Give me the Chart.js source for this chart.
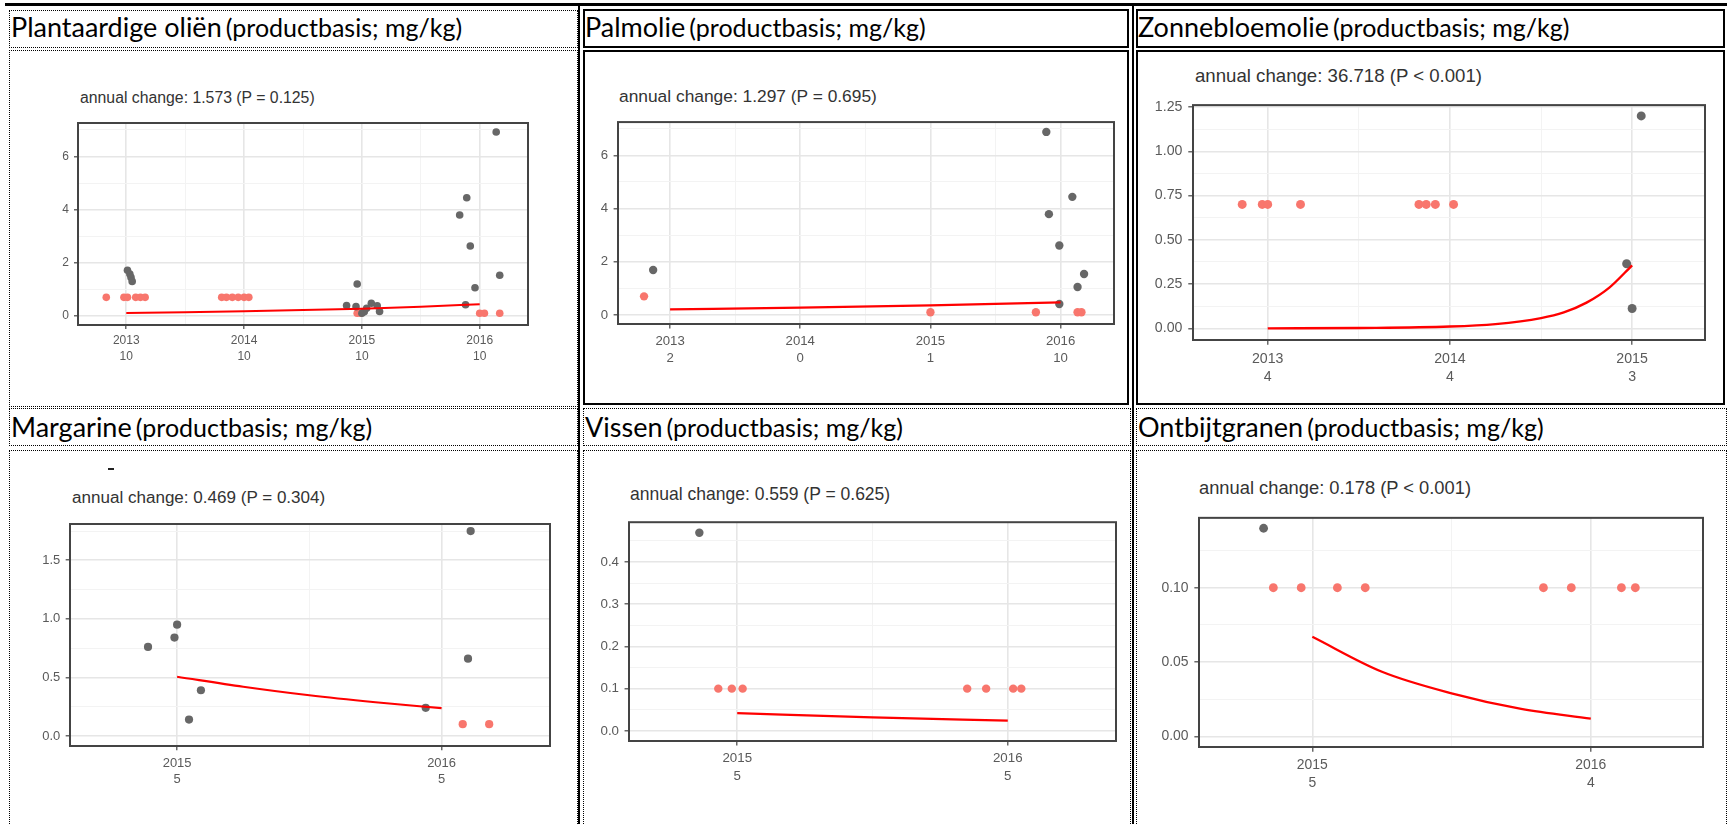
<!DOCTYPE html>
<html lang="nl">
<head>
<meta charset="utf-8">
<title>Trends per productgroep</title>
<script src="https://cdn.jsdelivr.net/npm/chart.js@4.4.1/dist/chart.umd.min.js"></script>
<style>
  html, body { margin: 0; padding: 0; background: #fff; }
  #page { position: relative; width: 1727px; height: 824px; overflow: hidden; }
  .ln { position: absolute; box-sizing: border-box; }
  .dot { border: 1px dotted #000; }
  .solid { border: 2px solid #000; }
  .title { position: absolute; font-family: Lato, "Open Sans", sans-serif; color: #000; white-space: nowrap; line-height: 1; }
  .title .big { font-size: 27px; }
  .title .small { font-size: 25px; }
  .note { position: absolute; font-family: "Liberation Sans", Arial, sans-serif; color: #333; white-space: nowrap; line-height: 1; }
  canvas { position: absolute; }
</style>
</head>
<body>
<div id="page">
  <!-- tabelranden -->
  <div class="ln" style="left:5px;top:3px;width:1722px;height:3px;background:#000"></div>
  <div class="ln" style="left:578px;top:3px;width:2px;height:821px;background:#000"></div>
  <div class="ln" style="left:1132px;top:3px;width:2px;height:821px;background:#000"></div>

  <div class="ln dot" style="left:9px;top:10px;width:569px;height:38px"></div>
  <div class="ln dot" style="left:9px;top:50px;width:569px;height:357px"></div>
  <div class="ln solid" style="left:583px;top:9px;width:546px;height:39px"></div>
  <div class="ln solid" style="left:583px;top:50px;width:546px;height:355px"></div>
  <div class="ln solid" style="left:1136px;top:9px;width:589px;height:39px"></div>
  <div class="ln solid" style="left:1136px;top:50px;width:589px;height:355px"></div>

  <div class="ln dot" style="left:9px;top:408px;width:569px;height:38px"></div>
  <div class="ln dot" style="left:9px;top:450px;width:569px;height:380px"></div>
  <div class="ln dot" style="left:583px;top:408px;width:548px;height:38px"></div>
  <div class="ln dot" style="left:583px;top:450px;width:548px;height:380px"></div>
  <div class="ln dot" style="left:1136px;top:408px;width:591px;height:38px"></div>
  <div class="ln dot" style="left:1136px;top:450px;width:591px;height:380px"></div>
  <div class="ln" style="left:108px;top:468px;width:6px;height:2px;background:#222"></div>

  <div class="title" style="left:11px;top:13px"><span class="big">Plantaardige oliën</span> <span class="small">(productbasis; mg/kg)</span></div>
  <div class="title" style="left:585px;top:13px"><span class="big">Palmolie</span> <span class="small">(productbasis; mg/kg)</span></div>
  <div class="title" style="left:1138px;top:13px"><span class="big">Zonnebloemolie</span> <span class="small">(productbasis; mg/kg)</span></div>
  <div class="title" style="left:11px;top:413px"><span class="big">Margarine</span> <span class="small">(productbasis; mg/kg)</span></div>
  <div class="title" style="left:585px;top:413px"><span class="big">Vissen</span> <span class="small">(productbasis; mg/kg)</span></div>
  <div class="title" style="left:1138px;top:413px"><span class="big">Ontbijtgranen</span> <span class="small">(productbasis; mg/kg)</span></div>
</div>

<script>
// ---- data ----
// rood = onder rapportagegrens, grijs = gemeten, fit = trendlijn
const plantRed = [[2012.83,0.7],[2012.98,0.7],[2013.01,0.7],[2013.08,0.7],[2013.12,0.7],[2013.16,0.7],
  [2013.81,0.7],[2013.85,0.7],[2013.9,0.7],[2013.95,0.7],[2014.0,0.7],[2014.04,0.7],
  [2014.96,0.1],[2014.99,0.1],[2016.0,0.1],[2016.04,0.1],[2016.17,0.1]];
const plantGrey = [[2013.01,1.72],[2013.03,1.58],[2013.04,1.45],[2013.05,1.3],
  [2014.87,0.39],[2014.95,0.35],[2014.96,1.2],[2015.0,0.1],[2015.02,0.16],[2015.04,0.29],[2015.08,0.48],[2015.13,0.38],[2015.15,0.17],
  [2015.83,3.8],[2015.88,0.42],[2015.89,4.45],[2015.92,2.63],[2015.96,1.06],[2016.14,6.92],[2016.17,1.53]];
const plantFit = [[2013,0.11],[2013.5,0.14],[2014,0.175],[2014.5,0.22],[2015,0.275],[2015.5,0.35],[2016,0.44]];
const plantYears = [2013, 2014, 2015, 2016];
const plantCounts = [10, 10, 10, 10];

const palmRed = [[2012.8,0.7],[2015.0,0.1],[2015.81,0.1],[2016.13,0.1],[2016.16,0.1]];
const palmGrey = [[2012.87,1.69],[2015.89,6.88],[2015.91,3.79],[2015.99,2.61],[2015.99,0.41],[2016.09,4.44],[2016.13,1.05],[2016.18,1.54]];
const palmFit = [[2013,0.21],[2014,0.275],[2015,0.36],[2016,0.47]];
const palmYears = [2013, 2014, 2015, 2016];
const palmCounts = [2, 0, 1, 10];

const zonRed = [[2012.86,0.7],[2012.97,0.7],[2013.0,0.7],[2013.18,0.7],[2013.83,0.7],[2013.87,0.7],[2013.92,0.7],[2014.02,0.7]];
const zonGrey = [[2014.97,0.365],[2015.0,0.112],[2015.05,1.2]];
const zonFit = [[2013,0.0],[2013.5,0.002],[2014,0.01],[2014.25,0.024],[2014.5,0.058],[2014.625,0.09],[2014.75,0.145],[2014.875,0.23],[2015,0.356]];
const zonYears = [2013, 2014, 2015];
const zonCounts = [4, 4, 3];

const margRed = [[2016.08,0.1],[2016.18,0.1]];
const margGrey = [[2014.89,0.76],[2014.99,0.84],[2015.0,0.95],[2015.045,0.14],[2015.09,0.39],[2015.94,0.24],[2016.1,0.66],[2016.11,1.75]];
const margFit = [[2015,0.505],[2015.25,0.42],[2015.5,0.347],[2015.75,0.288],[2016,0.237]];
const margYears = [2015, 2016];
const margCounts = [5, 5];

const visRed = [[2014.93,0.1],[2014.98,0.1],[2015.02,0.1],[2015.85,0.1],[2015.92,0.1],[2016.02,0.1],[2016.05,0.1]];
const visGrey = [[2014.86,0.469]];
const visFit = [[2015,0.042],[2015.5,0.032],[2016,0.024]];
const visYears = [2015, 2016];
const visCounts = [5, 5];

const ontRed = [[2014.86,0.1],[2014.96,0.1],[2015.09,0.1],[2015.19,0.1],[2015.83,0.1],[2015.93,0.1],[2016.11,0.1],[2016.16,0.1]];
const ontGrey = [[2014.825,0.14]];
const ontFit = [[2015,0.067],[2015.25,0.0435],[2015.5,0.029],[2015.75,0.0185],[2016,0.012]];
const ontYears = [2015, 2016];
const ontCounts = [5, 4];

// y-as ticks (hoofd + tussenlijnen)
const yTicksOil = [0, 2, 4, 6];           const yMinorOil = [1, 3, 5, 7];
const yTicksZon = [0, 0.25, 0.5, 0.75, 1, 1.25]; const yMinorZon = [0.125, 0.375, 0.625, 0.875, 1.125];
const yTicksMarg = [0, 0.5, 1, 1.5];      const yMinorMarg = [0.25, 0.75, 1.25, 1.75];
const yTicksVis = [0, 0.1, 0.2, 0.3, 0.4]; const yMinorVis = [0.05, 0.15, 0.25, 0.35, 0.45];
const yTicksOnt = [0, 0.05, 0.1];         const yMinorOnt = [0.025, 0.075, 0.125];

const notes = [
  "annual change: 1.573 (P = 0.125)",
  "annual change: 1.297 (P = 0.695)",
  "annual change: 36.718 (P < 0.001)",
  "annual change: 0.469 (P = 0.304)",
  "annual change: 0.559 (P = 0.625)",
  "annual change: 0.178 (P < 0.001)"
];

// ---- opmaak per paneel (positie plotvak in px) ----
const panels = [
  { red: plantRed, grey: plantGrey, fit: plantFit, years: plantYears, counts: plantCounts,
    yT: yTicksOil, yM: yMinorOil, dec: 0, x: [2012.59, 2016.41], y: [-0.34, 7.26],
    box: { l: 78, t: 123, r: 528, b: 325 }, note: [80, 99], k: 1 },
  { red: palmRed, grey: palmGrey, fit: palmFit, years: palmYears, counts: palmCounts,
    yT: yTicksOil, yM: yMinorOil, dec: 0, x: [2012.6, 2016.41], y: [-0.34, 7.25],
    box: { l: 618, t: 122, r: 1114, b: 324 }, note: [619, 98], k: 1.1 },
  { red: zonRed, grey: zonGrey, fit: zonFit, years: zonYears, counts: zonCounts,
    yT: yTicksZon, yM: yMinorZon, dec: 2, x: [2012.59, 2015.4], y: [-0.066, 1.261],
    box: { l: 1193, t: 104, r: 1705, b: 340 }, note: [1195, 77], k: 1.18 },
  { red: margRed, grey: margGrey, fit: margFit, years: margYears, counts: margCounts,
    yT: yTicksMarg, yM: yMinorMarg, dec: 1, x: [2014.595, 2016.41], y: [-0.086, 1.81],
    box: { l: 70, t: 524, r: 550, b: 746 }, note: [72, 498], k: 1.08 },
  { red: visRed, grey: visGrey, fit: visFit, years: visYears, counts: visCounts,
    yT: yTicksVis, yM: yMinorVis, dec: 1, x: [2014.6, 2016.4], y: [-0.024, 0.494],
    box: { l: 629, t: 522, r: 1116, b: 741 }, note: [630, 496], k: 1.11 },
  { red: ontRed, grey: ontGrey, fit: ontFit, years: ontYears, counts: ontCounts,
    yT: yTicksOnt, yM: yMinorOnt, dec: 2, x: [2014.593, 2016.403], y: [-0.0071, 0.147],
    box: { l: 1199, t: 517, r: 1703, b: 747 }, note: [1199, 489], k: 1.16 }
];

// kader rond het plotvak (ggplot theme_bw)
const panelBorder = {
  id: "panelBorder",
  afterDraw(chart) {
    const { ctx, chartArea: a } = chart;
    ctx.save();
    ctx.strokeStyle = "#444";
    ctx.lineWidth = 2;
    ctx.strokeRect(a.left, a.top, a.right - a.left, a.bottom - a.top);
    ctx.restore();
  }
};

const page = document.getElementById("page");
const AX_W = 62, PAD_T = 14, PAD_R = 12;
const isIn = (arr, v) => arr.some(a => Math.abs(a - v) < 1e-9);

panels.forEach((p, i) => {
  const k = p.k;
  const axH = Math.round(50 * k);

  // tekst boven het plotvak
  const note = document.createElement("div");
  note.className = "note";
  note.textContent = notes[i];
  const fs = 15.8 * k;
  note.style.fontSize = fs + "px";
  note.style.left = p.note[0] + "px";
  note.style.top = (p.note[1] - fs * 0.55) + "px";
  page.appendChild(note);

  const cv = document.createElement("canvas");
  const w = p.box.r - p.box.l + AX_W + PAD_R;
  const h = p.box.b - p.box.t + PAD_T + axH;
  cv.width = w; cv.height = h;
  cv.style.left = (p.box.l - AX_W) + "px";
  cv.style.top = (p.box.t - PAD_T) + "px";
  cv.style.width = w + "px"; cv.style.height = h + "px";
  page.appendChild(cv);

  const xMinor = [];
  for (let j = 0; j < p.years.length - 1; j++) xMinor.push(p.years[j] + 0.5);

  const axisFont = { family: "'Liberation Sans', Arial, sans-serif", size: 12 * k, lineHeight: 1.3 };
  const gridOpts = (minors) => ({
    color: c => (c.tick && isIn(minors, c.tick.value)) ? "#f3f3f3" : "#e6e6e6",
    lineWidth: c => (c.tick && isIn(minors, c.tick.value)) ? 1 : 1.6,
    tickLength: 4 * k,
    tickWidth: 1.2,
    tickColor: c => (c.tick && isIn(minors, c.tick.value)) ? "rgba(0,0,0,0)" : "#444"
  });

  new Chart(cv.getContext("2d"), {
    type: "scatter",
    data: {
      datasets: [
        { data: p.fit.map(d => ({ x: d[0], y: d[1] })), showLine: true, pointRadius: 0,
          borderColor: "#ff0000", borderWidth: 2 * k, cubicInterpolationMode: "monotone", order: 0 },
        { data: p.grey.map(d => ({ x: d[0], y: d[1] })), pointRadius: 3.8 * k, pointBorderWidth: 0,
          backgroundColor: "#676767", order: 1 },
        { data: p.red.map(d => ({ x: d[0], y: d[1] })), pointRadius: 3.8 * k, pointBorderWidth: 0,
          backgroundColor: "#f8766d", order: 2 }
      ]
    },
    options: {
      responsive: false,
      animation: false,
      events: [],
      layout: { autoPadding: false, padding: { left: 0, top: PAD_T, right: PAD_R, bottom: 0 } },
      plugins: { legend: { display: false }, tooltip: { enabled: false } },
      scales: {
        x: {
          type: "linear", min: p.x[0], max: p.x[1],
          afterBuildTicks: s => { s.ticks = p.years.concat(xMinor).sort((a, b) => a - b).map(v => ({ value: v })); },
          afterFit: s => { s.height = axH; },
          border: { display: false },
          grid: gridOpts(xMinor),
          ticks: {
            autoSkip: false, maxRotation: 0, padding: 4 * k, color: "#5a5a5a", font: axisFont,
            callback: v => {
              const j = p.years.indexOf(v);
              return j < 0 ? "" : [String(v), String(p.counts[j])];
            }
          }
        },
        y: {
          type: "linear", min: p.y[0], max: p.y[1],
          afterBuildTicks: s => { s.ticks = p.yT.concat(p.yM).sort((a, b) => a - b).map(v => ({ value: v })); },
          afterFit: s => { s.width = AX_W; },
          border: { display: false },
          grid: gridOpts(p.yM),
          ticks: {
            autoSkip: false, padding: 5 * k, color: "#5a5a5a", font: axisFont,
            callback: v => isIn(p.yT, v) ? v.toFixed(p.dec) : ""
          }
        }
      }
    },
    plugins: [panelBorder]
  });
});
</script>
</body>
</html>
